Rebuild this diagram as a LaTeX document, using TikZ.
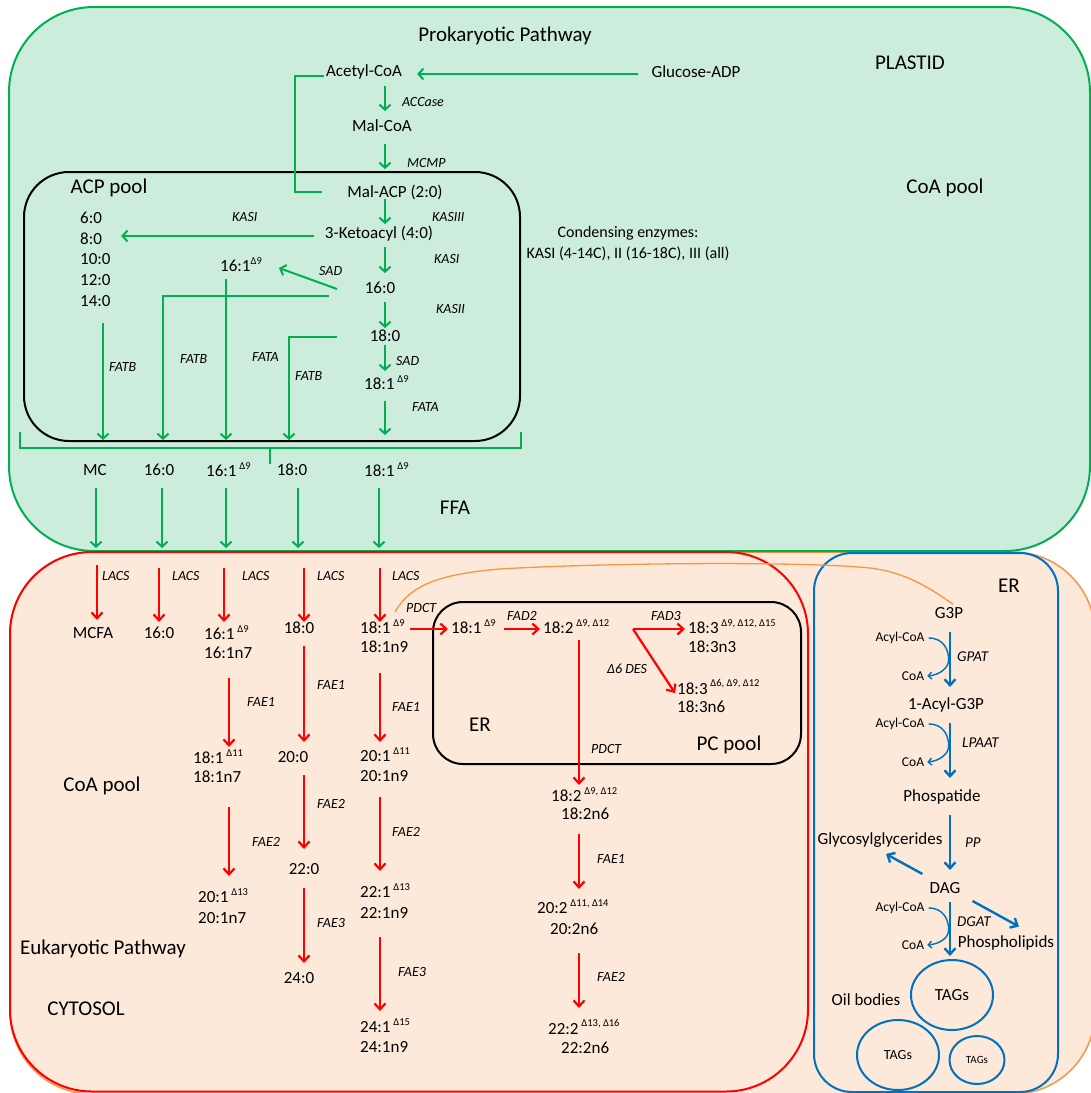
\documentclass[tikz,border=0pt]{standalone}
\usepackage{fontspec}
\setmainfont{Carlito}
\usetikzlibrary{arrows.meta,shapes.geometric}
\definecolor{pgreen}{RGB}{0,176,80}
\definecolor{pgfill}{RGB}{204,237,219}
\definecolor{cyfill}{RGB}{253,233,217}
\definecolor{orng}{RGB}{247,150,70}
\definecolor{eblue}{RGB}{0,112,192}
\newcommand\dsup[1]{\raisebox{0.42em}{\fontsize{10.5}{11}\selectfont #1}}
\newcommand\varr[5]{\coordinate (#5s) at (#2,#3); \coordinate (#5e) at (#2,#4); \draw[#1] (#5s) -- (#5e);}
\begin{document}
\begin{tikzpicture}[x=1pt,y=-1pt,
  lab/.style={inner sep=0pt,font=\fontsize{17}{20}\selectfont},
  big/.style={inner sep=0pt,font=\fontsize{21}{24}\selectfont},
  enz/.style={inner sep=0pt,anchor=west,font=\fontsize{14}{16}\selectfont\itshape},
  sml/.style={inner sep=0pt,font=\fontsize{13.5}{15}\selectfont},
  gln/.style={draw=pgreen,line width=2pt},
  gar/.style={gln,-{Straight Barb[length=5pt,width=11pt]}},
  rar/.style={draw=red,line width=2.2pt,-{Straight Barb[length=6pt,width=11pt]}},
  bar/.style={draw=eblue,line width=2.4pt,-{Straight Barb[length=6pt,width=11pt]}},
  bcv/.style={draw=eblue,line width=1.4pt,-{Straight Barb[length=3.5pt,width=7pt]}},
  tag/.style={draw=eblue,line width=2pt,ellipse,inner sep=0pt}
]
\useasboundingbox (0,0) rectangle (1091,1093);
\clip (0,0) rectangle (1091,1093);
\fill[white] (0,0) rectangle (1091,1093);
% compartments
\draw[orng,line width=1.5pt,fill=cyfill,rounded corners=82pt] (10,552) rectangle (1095,1094);
\draw[pgreen,line width=2pt,fill=pgfill,rounded corners=85pt] (9,7) rectangle (1090,551);
\draw[red,line width=2pt,rounded corners=82pt] (10,552) rectangle (808,1091.5);
\draw[eblue,line width=2pt,rounded corners=38pt] (814,553) rectangle (1058,1092);
\draw[black,line width=2pt,rounded corners=45pt] (24,172) rectangle (520,441);
\draw[black,line width=2pt,rounded corners=30pt] (433,602) rectangle (801,764);

% ---------- PLASTID ----------
\node[big] (prok) at (505,36) {Prokaryotic Pathway};
\node[big] (plastid) at (910,63) {PLASTID};
\node[big] (coatop) at (945,188) {CoA pool};
\node[big] (acp) at (109,188) {ACP pool};
\node[big] (ffa) at (455,508) {FFA};
\node[lab] (acetyl) at (364,72) {Acetyl-CoA};
\node[lab] (glucose) at (696,72) {Glucose-ADP};
\node[lab] (malcoa) at (382,126) {Mal-CoA};
\node[lab] (malacp) at (395,192) {Mal-ACP (2:0)};
\node[lab] (keto) at (379,234) {3-Ketoacyl (4:0)};
\node[lab,anchor=west] (c6) at (80,218) {6:0};
\node[lab,anchor=west] (c8) at (80,239) {8:0};
\node[lab,anchor=west] (c10) at (80,259) {10:0};
\node[lab,anchor=west] (c12) at (80,280) {12:0};
\node[lab,anchor=west] (c14) at (80,301) {14:0};
\node[lab,anchor=west] (p161) at (220,265) {16:1\dsup{Δ9}};
\node[lab] (p160) at (380,288) {16:0};
\node[lab] (p180) at (385,336) {18:0};
\node[lab,anchor=west] (p181) at (364,383) {18:1\,\dsup{Δ9}};
\node[inner sep=0pt,align=center,font=\fontsize{16}{21}\selectfont] (cond) at (628,244) {Condensing enzymes:\\KASI (4-14C), II (16-18C), III (all)};
\node[enz] (eaccase) at (402,102) {ACCase};
\node[enz] (emcmp) at (407,163) {MCMP};
\node[enz] (ekasiii) at (432,217) {KASIII};
\node[enz] (ekasia) at (232,217) {KASI};
\node[enz] (ekasib) at (434,259) {KASI};
\node[enz] (esada) at (319,271) {SAD};
\node[enz] (ekasii) at (436,309) {KASII};
\node[enz] (esadb) at (396,361) {SAD};
\node[enz] (efataa) at (412,407) {FATA};
\node[enz] (efatba) at (109,367) {FATB};
\node[enz] (efatbb) at (180,359) {FATB};
\node[enz] (efatab) at (252,357) {FATA};
\node[enz] (efatbc) at (295,376) {FATB};
\node[lab] (fmc) at (95,470) {MC};
\node[lab] (f160) at (159,470) {16:0};
\node[lab,anchor=west] (f161) at (206,470) {16:1\,\dsup{Δ9}};
\node[lab] (f180) at (292,470) {18:0};
\node[lab,anchor=west] (f181) at (364,470) {18:1\,\dsup{Δ9}};

% green connectors
\draw[gar] ([xshift=-13pt,yshift=-2pt]glucose.west) -- ([xshift=15pt,yshift=-2pt]acetyl.east);
\draw[gln] ([xshift=-2pt,yshift=-4pt]acetyl.west) -- ++(-29,0) |- ([xshift=-25pt]malacp.west);
\varr{gar}{385}{86}{111}{accase}
\varr{gar}{385}{144}{169}{mcmp}
\varr{gar}{385}{199}{224}{kasiii}
\varr{gar}{385}{247}{273}{kasi}
\varr{gar}{385}{302}{328}{kasii}
\varr{gar}{385}{345}{371}{sadb}
\varr{gar}{385}{401}{435}{fata}
\draw[gar] ([xshift=-11pt,yshift=-2pt]keto.west) -- ([xshift=19pt,yshift=-2pt]keto.west -| c8.east);
\coordinate (sadas) at (337,289); \coordinate (sadae) at (279,268);
\draw[gar] (sadas) -- (sadae);
\coordinate (l16s) at (329,296); \coordinate (l16e) at (163,440);
\draw[gar] (l16s) -| (l16e);
\varr{gar}{226}{279}{440}{l161}
\coordinate (l18s) at (337,337); \coordinate (l18e) at (289,440);
\draw[gar] (l18s) -| (l18e);
\varr{gar}{103}{323}{440}{l14}
\coordinate (brl) at (20,432); \coordinate (brr) at (521,432);
\draw[gln] (brl) -- ++(0,16) -- ++(501,0) -- (brr);
\coordinate (tick) at (270,448);
\draw[gln] (tick) -- ++(0,16);
\varr{gar}{96}{488}{548}{ffa1}
\varr{gar}{162}{488}{548}{ffa2}
\varr{gar}{226}{488}{548}{ffa3}
\varr{gar}{298}{488}{548}{ffa4}
\varr{gar}{379}{488}{548}{ffa5}

% ---------- CYTOSOL ----------
\node[big] (coabot) at (102,786) {CoA pool};
\node[big] (euk) at (103,949) {Eukaryotic Pathway};
\node[big] (cytosol) at (86,1009) {CYTOSOL};
\node[enz] (lacs1) at (102,576) {LACS};
\node[enz] (lacs2) at (172,576) {LACS};
\node[enz] (lacs3) at (242,576) {LACS};
\node[enz] (lacs4) at (317,576) {LACS};
\node[enz] (lacs5) at (392,576) {LACS};
\node[lab] (mcfa) at (93,633) {MCFA};
\node[lab] (y160) at (159,633) {16:0};
\node[lab,anchor=west] (y161) at (204,633) {16:1\,\dsup{Δ9}};
\node[lab,anchor=west] (y161n) at (204,653) {16:1n7};
\node[lab] (y180) at (299,628) {18:0};
\node[lab,anchor=west] (y181) at (360,627) {18:1\,\dsup{Δ9}};
\node[lab,anchor=west] (y181n) at (360,647) {18:1n9};
\node[enz] (pdcta) at (406,608) {PDCT};
\node[enz] (fae1a) at (247,702) {FAE1};
\node[enz] (fae1b) at (317,685) {FAE1};
\node[enz] (fae1c) at (392,707) {FAE1};
\node[lab,anchor=west] (y1811) at (193,757) {18:1\,\dsup{Δ11}};
\node[lab,anchor=west] (y1811n) at (193,777) {18:1n7};
\node[lab] (y200) at (293,757) {20:0};
\node[lab,anchor=west] (y2011) at (360,755) {20:1\,\dsup{Δ11}};
\node[lab,anchor=west] (y2011n) at (360,776) {20:1n9};
\node[enz] (fae2a) at (252,842) {FAE2};
\node[enz] (fae2b) at (317,804) {FAE2};
\node[enz] (fae2c) at (392,832) {FAE2};
\node[lab,anchor=west] (y2013) at (198,896) {20:1\,\dsup{Δ13}};
\node[lab,anchor=west] (y2013n) at (198,918) {20:1n7};
\node[lab] (y220) at (304,869) {22:0};
\node[lab,anchor=west] (y2213) at (360,891) {22:1\,\dsup{Δ13}};
\node[lab,anchor=west] (y2213n) at (360,913) {22:1n9};
\node[enz] (fae3a) at (317,923) {FAE3};
\node[enz] (fae3b) at (398,972) {FAE3};
\node[lab] (y240) at (299,978) {24:0};
\node[lab,anchor=west] (y2415) at (360,1026) {24:1\,\dsup{Δ15}};
\node[lab,anchor=west] (y2415n) at (360,1047) {24:1n9};

% PC pool
\node[big] (erin) at (480,725) {ER};
\node[big] (pcpool) at (729,745) {PC pool};
\node[lab,anchor=west] (e181) at (451,627) {18:1\,\dsup{Δ9}};
\node[enz] (fad2) at (507,616) {FAD2};
\node[lab,anchor=west] (e182) at (543,627) {18:2\,\dsup{Δ9, Δ12}};
\node[enz] (fad3) at (651,616) {FAD3};
\node[lab,anchor=west] (e183a) at (688,627) {18:3\,\dsup{Δ9, Δ12, Δ15}};
\node[lab,anchor=west] (e183an) at (688,647) {18:3n3};
\node[enz] (d6des) at (607,669) {Δ6 DES};
\node[lab,anchor=west] (e183b) at (677,687) {18:3\,\dsup{Δ6, Δ9, Δ12}};
\node[lab,anchor=west] (e183bn) at (677,707) {18:3n6};
\node[enz] (pdctb) at (591,749) {PDCT};
\node[lab,anchor=west] (y182) at (551,795) {18:2\,\dsup{Δ9, Δ12}};
\node[lab,anchor=west] (y182n) at (561,814) {18:2n6};
\node[enz] (fae1d) at (597,859) {FAE1};
\node[lab,anchor=west] (y202) at (537,907) {20:2\,\dsup{Δ11, Δ14}};
\node[lab,anchor=west] (y202n) at (550,929) {20:2n6};
\node[enz] (fae2d) at (597,977) {FAE2};
\node[lab,anchor=west] (y222) at (548,1027) {22:2\,\dsup{Δ13, Δ16}};
\node[lab,anchor=west] (y222n) at (561,1048) {22:2n6};

% red connectors
\varr{rar}{97}{565}{620}{ra1}
\varr{rar}{159}{568}{622}{ra2}
\varr{rar}{224}{568}{622}{ra3}
\varr{rar}{304}{568}{622}{ra4}
\varr{rar}{380}{568}{622}{ra5}
\draw[rar] ([xshift=5pt,yshift=-2pt]y181.east) -- ([xshift=-3pt,yshift=-2pt]e181.west);
\draw[rar] ([xshift=8pt,yshift=-2pt]e181.east) -- ([xshift=-3pt,yshift=-2pt]e182.west);
\coordinate (fork) at (633,629);
\draw[rar] (fork) -- ([xshift=-3pt,yshift=-2pt]e183a.west);
\draw[rar] (fork) -- ([xshift=-2pt,yshift=-6pt]e183b.west);
\varr{rar}{579}{640}{785}{rpdct}
\varr{rar}{229}{678}{747}{rb1}
\varr{rar}{229}{807}{876}{rb2}
\varr{rar}{304}{646}{742}{rc1}
\varr{rar}{304}{775}{849}{rc2}
\varr{rar}{304}{888}{963}{rc3}
\varr{rar}{380}{673}{742}{rd1}
\varr{rar}{380}{797}{871}{rd2}
\varr{rar}{380}{937}{1011}{rd3}
\varr{rar}{579}{834}{889}{re1}
\varr{rar}{579}{953}{1008}{re2}

% ---------- ER (right) ----------
\node[big] (erright) at (1009,586) {ER};
\node[lab] (g3p) at (949,613) {G3P};
\node[sml] (acyl1) at (900,638) {Acyl-CoA};
\node[sml] (coa1) at (913,676) {CoA};
\node[enz,font=\fontsize{15}{17}\selectfont\itshape] (gpat) at (957,657) {GPAT};
\node[lab] (acylg3p) at (946,705) {1-Acyl-G3P};
\node[sml] (acyl2) at (900,724) {Acyl-CoA};
\node[sml] (coa2) at (913,762) {CoA};
\node[enz,font=\fontsize{15}{17}\selectfont\itshape] (lpaat) at (962,743) {LPAAT};
\node[lab] (phosp) at (942,797) {Phospatide};
\node[enz,font=\fontsize{15}{17}\selectfont\itshape] (pp) at (965,843) {PP};
\node[lab] (glyco) at (880,840) {Glycosylglycerides};
\node[lab] (dag) at (945,888) {DAG};
\node[sml] (acyl3) at (900,908) {Acyl-CoA};
\node[sml] (coa3) at (913,945) {CoA};
\node[enz,font=\fontsize{15}{17}\selectfont\itshape] (dgat) at (957,922) {DGAT};
\node[lab] (phospho) at (1006,943) {Phospholipids};
\node[tag,minimum width=82pt,minimum height=70pt,font=\fontsize{17}{20}\selectfont] (tag1) at (952,995) {TAGs};
\node[lab] (oil) at (866,1000) {Oil bodies};
\node[tag,minimum width=82pt,minimum height=70pt,font=\fontsize{14}{16}\selectfont] (tag2) at (898,1055) {TAGs};
\node[tag,minimum width=55pt,minimum height=48pt,font=\fontsize{11}{13}\selectfont] (tag3) at (977,1060) {TAGs};

\varr{bar}{950}{632}{687}{bgpat}
\varr{bar}{950}{723}{778}{blpaat}
\varr{bar}{950}{815}{870}{bpp}
\varr{bar}{950}{902}{956}{bdgat}
\draw[bar] ([xshift=-7pt,yshift=14pt]dag.west) -- ([xshift=6pt,yshift=-14pt]glyco.center);
\draw[bar] ([xshift=12pt,yshift=-13pt]dag.east) -- ([xshift=13pt,yshift=9pt]phospho.north);
\draw[bcv] ([xshift=4pt]acyl1.east) .. controls +(15,0) and +(0,-10) .. ++(20,22) .. controls +(0,8) and +(12,-1) .. ([xshift=3pt]coa1.east);
\draw[bcv] ([xshift=4pt]acyl2.east) .. controls +(15,0) and +(0,-10) .. ++(20,22) .. controls +(0,8) and +(12,-1) .. ([xshift=3pt]coa2.east);
\draw[bcv] ([xshift=4pt]acyl3.east) .. controls +(15,0) and +(0,-10) .. ++(20,22) .. controls +(0,8) and +(12,-1) .. ([xshift=3pt]coa3.east);

% orange PDCT link
\coordinate (orgs) at (395,612);
\draw[orng,line width=1.3pt] (orgs) .. controls (410,585) and (440,574) .. (500,569) .. controls (600,563) and (800,561) .. (870,568) .. controls (905,572) and (930,588) .. ([xshift=4pt,yshift=3pt]g3p.north);
\end{tikzpicture}
\end{document}
